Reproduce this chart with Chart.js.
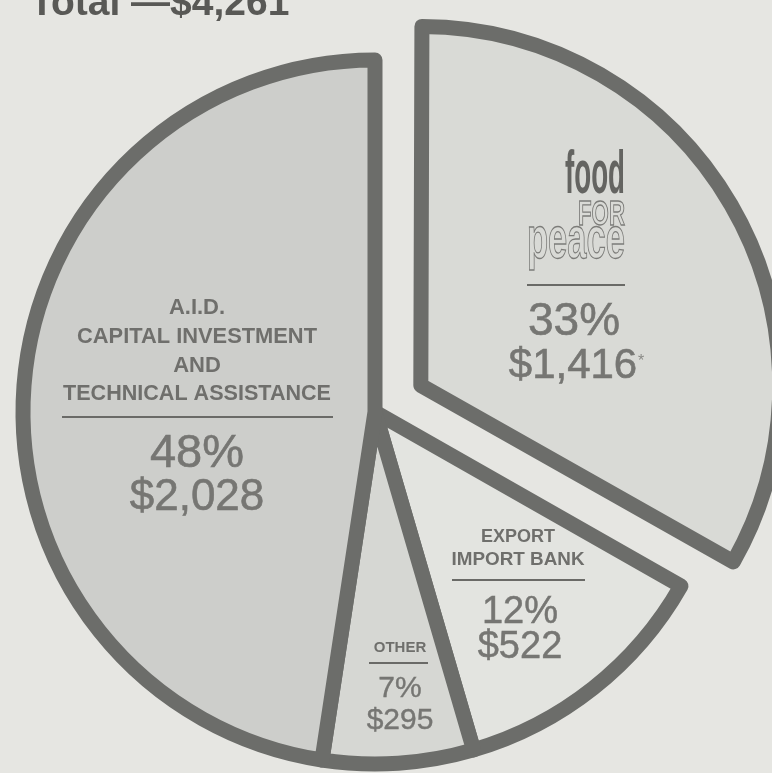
<!DOCTYPE html>
<html>
<head>
<meta charset="utf-8">
<script src="https://cdn.jsdelivr.net/npm/chart.js@4/dist/chart.umd.min.js"></script>
<style>
  html, body { margin: 0; padding: 0; background: #e6e6e2; }
  #wrap { width: 772px; height: 773px; position: relative; }
</style>
</head>
<body>
<div id="wrap"><canvas id="c"></canvas></div>
<script>
// ---- data ----
const categories = ['Food for Peace', 'Export Import Bank', 'Other', 'A.I.D. Capital Investment and Technical Assistance'];
const amounts = [1416, 522, 295, 2028];          // $ millions
const percents = ['33%', '12%', '7%', '48%'];
const amountLabels = ['$1,416', '$522', '$295', '$2,028'];
const totalLabel = 'Total —$4,261';
const explodedSlice = [true, false, false, false];

// ---- styles ----
const fills = ['#d9dad6', '#e3e4e0', '#d6d7d3', '#cdcecb'];
const borderCol = '#6c6d6a';
const textCol = '#6f6f6c';
const numCol = '#767673';
const FONT = '"Liberation Sans", Arial, sans-serif';

function txt(ctx, s, x, y, font, color, align, maxW, thicken) {
  ctx.font = font;
  ctx.fillStyle = color;
  ctx.textAlign = align || 'center';
  ctx.textBaseline = 'alphabetic';
  if (maxW) ctx.fillText(s, x, y, maxW); else ctx.fillText(s, x, y);
  if (thicken) {
    ctx.strokeStyle = color;
    ctx.lineWidth = thicken;
    if (maxW) ctx.strokeText(s, x, y, maxW); else ctx.strokeText(s, x, y);
  }
}
function outline(ctx, s, x, y, font, color, align, maxW, lw) {
  ctx.font = font;
  ctx.strokeStyle = color;
  ctx.lineWidth = lw;
  ctx.textAlign = align;
  ctx.textBaseline = 'alphabetic';
  ctx.strokeText(s, x, y, maxW);
}
function rule(ctx, x1, x2, y, w) {
  ctx.beginPath();
  ctx.strokeStyle = '#6a6a67';
  ctx.lineWidth = w || 2;
  ctx.moveTo(x1, y); ctx.lineTo(x2, y);
  ctx.stroke();
}

const bgPlugin = {
  id: 'bg',
  beforeDraw(chart) {
    const ctx = chart.ctx;
    ctx.save();
    ctx.fillStyle = '#e6e6e2';
    ctx.fillRect(0, 0, chart.width, chart.height);
    ctx.restore();
  }
};

const labelPlugin = {
  id: 'labels',
  afterDatasetsDraw(chart) {
    const ctx = chart.ctx;
    ctx.save();
    // title (cut off at top)
    txt(ctx, totalLabel, 30, 15, 'bold 39px ' + FONT, '#595956', 'left');

    // A.I.D.
    const ax = 197;
    const lb = 'bold 22px ' + FONT;
    txt(ctx, 'A.I.D.', ax, 314, lb, textCol, 'center');
    txt(ctx, 'CAPITAL INVESTMENT', ax, 343, lb, textCol, 'center', 240);
    txt(ctx, 'AND', ax, 372, lb, textCol, 'center');
    txt(ctx, 'TECHNICAL ASSISTANCE', ax, 400, lb, textCol, 'center', 268);
    rule(ctx, 62, 333, 417, 2);
    txt(ctx, percents[3], ax, 467, '47px ' + FONT, numCol, 'center', null, 0.6);
    txt(ctx, amountLabels[3], ax, 510, '44px ' + FONT, numCol, 'center', null, 0.6);

    // Food for Peace logo
    txt(ctx, 'food', 625, 193, 'bold 62px ' + FONT, '#646461', 'right', 60);
    outline(ctx, 'FOR', 625, 225, 'bold 35px ' + FONT, '#7c7c79', 'right', 47, 1.3);
    outline(ctx, 'peace', 625, 258, 'bold 60px ' + FONT, '#7c7c79', 'right', 98, 1.3);
    rule(ctx, 527, 625, 285, 2);
    txt(ctx, percents[0], 574, 335, '46px ' + FONT, numCol, 'center', null, 0.6);
    txt(ctx, amountLabels[0], 573, 378, '42px ' + FONT, numCol, 'center', null, 0.6);
    txt(ctx, '*', 641, 366, '16px ' + FONT, '#8a8a87', 'center');

    // Export Import Bank
    const ex = 518;
    const lb2 = 'bold 19px ' + FONT;
    txt(ctx, 'EXPORT', ex, 542, lb2, textCol, 'center', 74);
    txt(ctx, 'IMPORT BANK', ex, 565, lb2, textCol, 'center', 133);
    rule(ctx, 452, 585, 580, 2);
    txt(ctx, percents[1], ex + 2, 623, '38px ' + FONT, numCol, 'center', null, 0.5);
    txt(ctx, amountLabels[1], ex + 2, 658, '38px ' + FONT, numCol, 'center', null, 0.5);

    // Other
    const ox = 400;
    txt(ctx, 'OTHER', ox, 652, 'bold 15px ' + FONT, textCol, 'center', 53);
    rule(ctx, 369, 428, 663, 2);
    txt(ctx, percents[2], ox, 697, '30px ' + FONT, numCol, 'center', null, 0.4);
    txt(ctx, amountLabels[2], ox, 729, '30px ' + FONT, numCol, 'center', null, 0.4);
    ctx.restore();
  }
};

new Chart(document.getElementById('c'), {
  type: 'pie',
  data: {
    labels: categories,
    datasets: [{
      data: amounts,
      backgroundColor: fills,
      borderColor: borderCol,
      borderWidth: 15,
      borderJoinStyle: 'round',
      borderAlign: 'center',
      offset: explodedSlice.map(e => e ? 212 : 0),
      hoverOffset: 0,
      clip: false
    }]
  },
  options: {
    responsive: true,
    maintainAspectRatio: false,
    animation: false,
    radius: 352,
    layout: { padding: { left: 0, right: 22, top: 51, bottom: 0 } },
    plugins: {
      legend: { display: false },
      tooltip: { enabled: false },
      title: { display: false }
    },
    events: []
  },
  plugins: [bgPlugin, labelPlugin]
});
</script>
</body>
</html>
